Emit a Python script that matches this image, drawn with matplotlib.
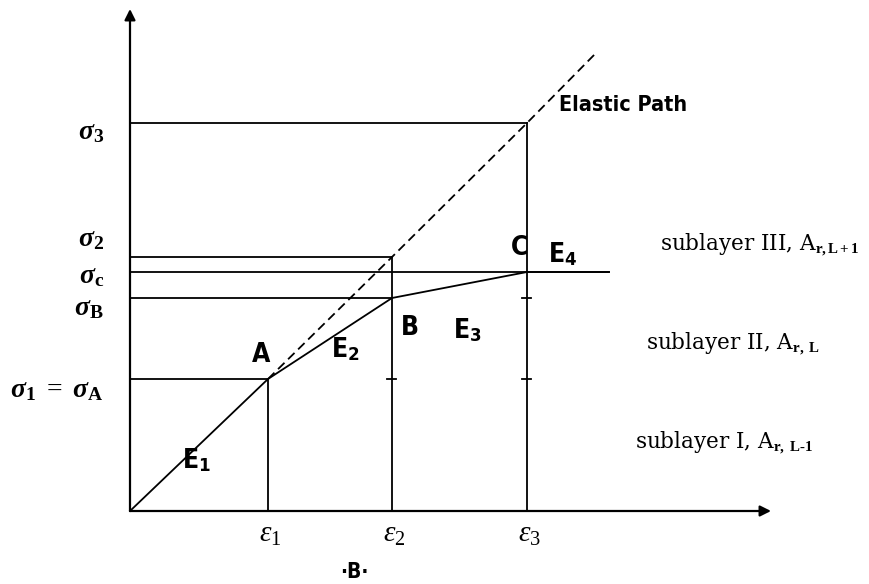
import matplotlib
matplotlib.use("Agg")
import matplotlib.pyplot as plt

# --- mathtext fonts: Times-like serif for symbols, condensed bold sans for point labels
plt.rcParams["mathtext.fontset"] = "custom"
plt.rcParams["mathtext.rm"] = "Liberation Serif"
plt.rcParams["mathtext.it"] = "Liberation Serif:italic"
plt.rcParams["mathtext.bf"] = "Liberation Serif:bold"
plt.rcParams["mathtext.bfit"] = "Liberation Serif:bold:italic"
plt.rcParams["mathtext.sf"] = "DejaVu Sans:bold:stretch=condensed"

# --- data: strains and stresses of the multilinear response
strains = [1.38, 2.62, 3.97]                    # eps1, eps2, eps3
strain_labels = [r"$\varepsilon_1$", r"$\varepsilon_2$", r"$\varepsilon_3$"]

sigma_A = 1.32
sigma_B = 2.13
sigma_c = 2.39
sigma_2 = 2.54
sigma_3 = 3.88
stress_levels = [sigma_A, sigma_B, sigma_c, sigma_2, sigma_3]
stress_labels = [
    r"$\mathbfit{\sigma}_\mathbf{1}\ =\ \mathbfit{\sigma}_\mathbf{A}$",
    r"$\mathbfit{\sigma}_\mathbf{B}$",
    r"$\mathbfit{\sigma}_\mathbf{c}$",
    r"$\mathbfit{\sigma}_\mathbf{2}$",
    r"$\mathbfit{\sigma}_\mathbf{3}$",
]

# actual (softening) path: O -> A -> B -> C -> beyond
path_strain = [0.0, strains[0], strains[1], strains[2], 4.79]
path_stress = [0.0, sigma_A, sigma_B, sigma_c, sigma_c]

# elastic path continuing from A
elastic_strain = [strains[0], strains[1], strains[2], 4.66]
elastic_stress = [sigma_A, sigma_2, sigma_3, 4.58]

point_labels = ["A", "B", "C"]
modulus_labels = [r"$\mathsf{E}_\mathsf{1}$", r"$\mathsf{E}_\mathsf{2}$",
                  r"$\mathsf{E}_\mathsf{3}$", r"$\mathsf{E}_\mathsf{4}$"]
sublayer_labels = [
    r"sublayer III, A$_{\mathbf{r,L+1}}$",
    r"sublayer II, A$_{\mathbf{r,\ L}}$",
    r"sublayer I, A$_{\mathbf{r,\ L\text{-}1}}$",
]

# --- figure
fig = plt.figure(figsize=(8.7, 5.84), dpi=100)
ax = fig.add_axes([0, 0, 1, 1])
ax.set_xlim(-1.30, 7.40)
ax.set_ylim(-0.73, 5.11)
ax.axis("off")

k = "black"
lw = 1.3
cond = dict(family="DejaVu Sans", fontstretch="condensed", fontweight="bold")

# axes with arrow heads
arrow = dict(arrowstyle="-|>", color=k, lw=1.6, mutation_scale=16, shrinkA=0, shrinkB=0)
ax.annotate("", xy=(0, 5.02), xytext=(0, 0), arrowprops=arrow)
ax.annotate("", xy=(6.41, 0), xytext=(0, 0), arrowprops=arrow)

# horizontal stress levels
eps1, eps2, eps3 = strains
ax.plot([0, eps1], [sigma_A, sigma_A], color=k, lw=lw)
ax.plot([0, eps2], [sigma_B, sigma_B], color=k, lw=lw)
ax.plot([0, path_strain[-1]], [sigma_c, sigma_c], color=k, lw=lw)
ax.plot([0, eps2], [sigma_2, sigma_2], color=k, lw=lw)
ax.plot([0, eps3], [sigma_3, sigma_3], color=k, lw=lw)

# vertical strain levels
ax.plot([eps1, eps1], [0, sigma_A], color=k, lw=lw)
ax.plot([eps2, eps2], [0, sigma_2], color=k, lw=lw)
ax.plot([eps3, eps3], [0, sigma_3], color=k, lw=lw)

# small ticks on the verticals
tick = 0.045
for xs, ys in [(eps2, sigma_A), (eps3, sigma_A), (eps3, sigma_B)]:
    ax.plot([xs - tick, xs + tick], [ys, ys], color=k, lw=lw)

# response path and elastic path
ax.plot(path_strain, path_stress, color=k, lw=lw, solid_joinstyle="miter")
ax.plot(elastic_strain, elastic_stress, color=k, lw=lw, ls=(0, (5, 2.8)))

# stress labels on the left
label_y = [1.22, 2.04, 2.36, 2.73, 3.80]
for lab, yy in zip(stress_labels, label_y):
    ax.text(-0.26, yy, lab, ha="right", va="center", fontsize=20)

# strain labels below the axis
for lab, xx in zip(strain_labels, strains):
    ax.text(xx + 0.02, -0.23, lab, ha="center", va="center", fontsize=21)

# point labels
pts = [(eps1, sigma_A), (eps2, sigma_B), (eps3, sigma_c)]
offs = [(-0.07, 0.24), (0.18, -0.30), (-0.07, 0.24)]
for lab, (px, py), (dx, dy) in zip(point_labels, pts, offs):
    ax.text(px + dx, py + dy, lab, ha="center", va="center", fontsize=19, **cond)

# modulus labels along the segments
mod_pos = [(0.66, 0.50), (2.15, 1.61), (3.37, 1.80), (4.33, 2.56)]
for lab, (mx, my) in zip(modulus_labels, mod_pos):
    ax.text(mx, my, lab, ha="center", va="center", fontsize=19)

ax.text(4.93, 4.06, "Elastic Path", ha="center", va="center", fontsize=15.5, **cond)

# sublayer annotations on the right
sub_pos = [(5.30, 2.66), (5.16, 1.67), (5.05, 0.68)]
for lab, (sx, sy) in zip(sublayer_labels, sub_pos):
    ax.text(sx, sy, lab, ha="left", va="center", fontsize=15.5, family="DejaVu Serif")

ax.text(2.24, -0.605, "·B·", ha="center", va="center", fontsize=15, **cond)

fig.savefig("out.png", dpi=100, facecolor="white")
